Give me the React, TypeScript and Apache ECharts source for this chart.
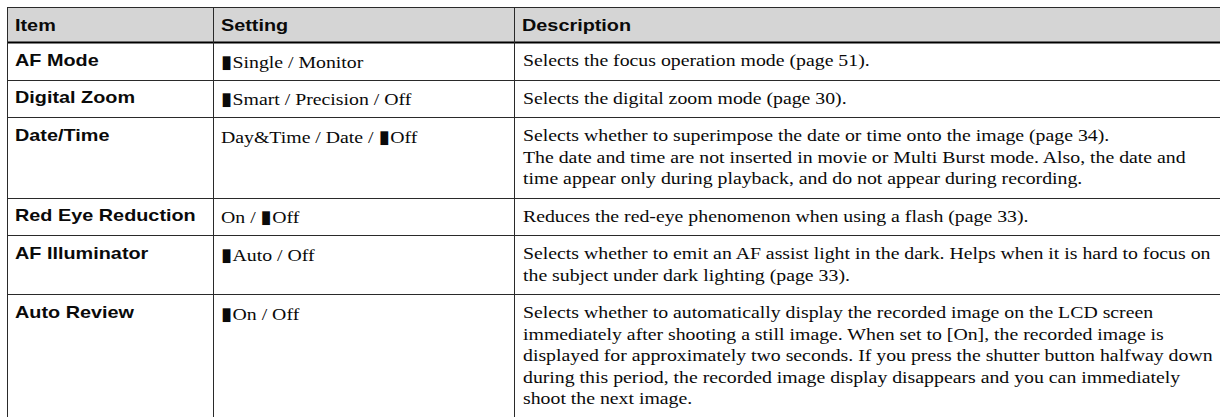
import React, { useEffect, useRef } from "react";
import * as echarts from "echarts";

const headers = ["Item", "Setting", "Description"];
const items = ["AF Mode", "Digital Zoom", "Date/Time", "Red Eye Reduction", "AF Illuminator", "Auto Review"];
const settings = [
  "■Single / Monitor",
  "■Smart / Precision / Off",
  "Day&Time / Date / ■Off",
  "On / ■Off",
  "■Auto / Off",
  "■On / Off",
];
const descriptions = [
  ["Selects the focus operation mode (page 51)."],
  ["Selects the digital zoom mode (page 30)."],
  [
    "Selects whether to superimpose the date or time onto the image (page 34).",
    "The date and time are not inserted in movie or Multi Burst mode. Also, the date and",
    "time appear only during playback, and do not appear during recording.",
  ],
  ["Reduces the red-eye phenomenon when using a flash (page 33)."],
  [
    "Selects whether to emit an AF assist light in the dark. Helps when it is hard to focus on",
    "the subject under dark lighting (page 33).",
  ],
  [
    "Selects whether to automatically display the recorded image on the LCD screen",
    "immediately after shooting a still image. When set to [On], the recorded image is",
    "displayed for approximately two seconds. If you press the shutter button halfway down",
    "during this period, the recorded image display disappears and you can immediately",
    "shoot the next image.",
  ],
];

const COL_X = [7, 213, 514, 1222];
const TOP = 7;
const HEADER_H = 35;
const BASE_H = 37.5;
const LINE_H = 21.5;
const FIRST = 18.5;

const SANS = '"Liberation Sans", Arial, Helvetica, sans-serif';
const SERIF = '"Liberation Serif", "Times New Roman", serif';
const INK = "#0a0a0a";
const LINE = "#2a2a2a";
const SANS_SX = 1.24;
const SERIF_SX = 1.165;

function sansText(text: string, x: number, y: number) {
  return {
    type: "text",
    x,
    y,
    scaleX: SANS_SX,
    style: { text, font: `bold 16px ${SANS}`, fill: INK, verticalAlign: "middle", textVerticalAlign: "middle" },
    z: 2,
  };
}

function buildGraphics(H: number) {
  const els: any[] = [];
  els.push({
    type: "rect",
    shape: { x: COL_X[0], y: TOP, width: COL_X[3] - COL_X[0], height: HEADER_H },
    style: { fill: "#d5d5d5" },
    z: 0,
  });
  headers.forEach((h, i) => {
    els.push(sansText(h, COL_X[i] + 8, TOP + HEADER_H / 2 + 1));
  });
  let y = TOP + HEADER_H;
  const hLines: number[] = [TOP, y];
  items.forEach((item, r) => {
    const n = descriptions[r].length;
    const h = BASE_H + (n - 1) * LINE_H;
    const cy = y + FIRST;
    els.push(sansText(item, COL_X[0] + 8, cy));
    const rich = settings[r].replace(/■/g, "{sq|▮}");
    els.push({
      type: "text",
      x: COL_X[1] + 8,
      y: cy + 1.5,
      scaleX: SERIF_SX,
      style: {
        text: rich,
        font: `17px ${SERIF}`,
        fontSize: 17,
        fontFamily: SERIF,
        fill: INK,
        verticalAlign: "middle",
        textVerticalAlign: "middle",
        rich: {
          sq: { fontFamily: '"DejaVu Sans", sans-serif', fontSize: 18, fill: INK, color: INK },
        },
      },
      z: 2,
    });
    descriptions[r].forEach((line, k) => {
      els.push({
        type: "text",
        x: COL_X[2] + 9,
        y: cy + k * LINE_H,
        scaleX: SERIF_SX,
        style: { text: line, font: `17px ${SERIF}`, fill: INK, verticalAlign: "middle", textVerticalAlign: "middle" },
        z: 2,
      });
    });
    y += h;
    if (r < items.length - 1) hLines.push(y);
  });
  hLines.forEach((ly, i) => {
    const yy = Math.round(ly) + 0.5;
    els.push({
      type: "line",
      shape: { x1: COL_X[0], y1: yy, x2: COL_X[3], y2: yy },
      style: { stroke: i === 1 ? "#000" : LINE, lineWidth: i === 1 ? 2 : 1 },
      z: 3,
    });
  });
  COL_X.slice(0, 3).forEach((x) => {
    els.push({
      type: "line",
      shape: { x1: x + 0.5, y1: TOP, x2: x + 0.5, y2: H + 5 },
      style: { stroke: LINE, lineWidth: 1 },
      z: 3,
    });
  });
  return els;
}

export default function App() {
  const ref = useRef<HTMLDivElement>(null);
  useEffect(() => {
    document.body.style.margin = "0";
    const chart = echarts.init(ref.current!, undefined, { renderer: "svg" });
    chart.setOption({
      animation: false,
      backgroundColor: "#ffffff",
      graphic: { elements: buildGraphics(417) },
    });
    return () => chart.dispose();
  }, []);
  return <div ref={ref} style={{ width: 1220, height: 417 }} />;
}
